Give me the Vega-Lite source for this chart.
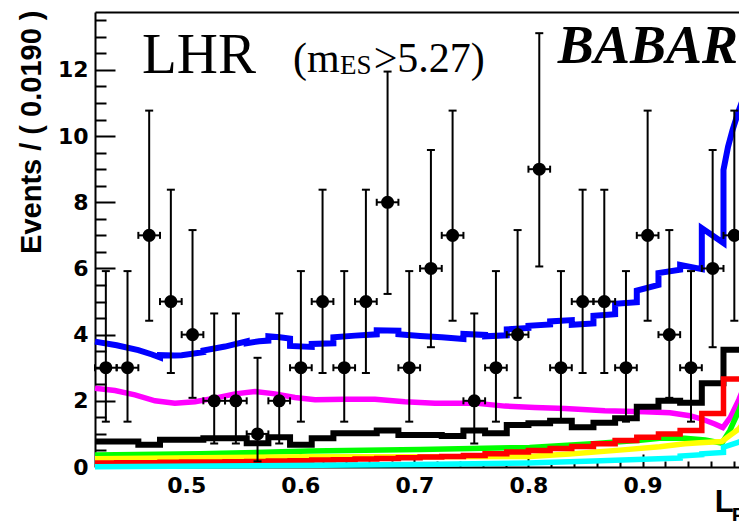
{
  "$schema": "https://vega.github.io/schema/vega-lite/v6.json",
  "autosize": "none",
  "width": 644,
  "height": 455,
  "padding": {"left": 95, "top": 12, "right": 0, "bottom": 54},
  "background": "white",
  "config": {"view": {"stroke": null}, "axis": {"grid": false, "zindex": 1}},
  "datasets": {
    "pts": [
      {"x": 0.4295, "xlo": 0.420, "xhi": 0.439, "n": 3, "lo": 1.37, "hi": 5.92},
      {"x": 0.4485, "xlo": 0.439, "xhi": 0.458, "n": 3, "lo": 1.37, "hi": 5.92},
      {"x": 0.4675, "xlo": 0.458, "xhi": 0.477, "n": 7, "lo": 4.42, "hi": 10.77},
      {"x": 0.4865, "xlo": 0.477, "xhi": 0.496, "n": 5, "lo": 2.84, "hi": 8.38},
      {"x": 0.5055, "xlo": 0.496, "xhi": 0.515, "n": 4, "lo": 2.09, "hi": 7.16},
      {"x": 0.5245, "xlo": 0.515, "xhi": 0.534, "n": 2, "lo": 0.71, "hi": 4.64},
      {"x": 0.5435, "xlo": 0.534, "xhi": 0.553, "n": 2, "lo": 0.71, "hi": 4.64},
      {"x": 0.5625, "xlo": 0.553, "xhi": 0.572, "n": 1, "lo": 0.17, "hi": 3.30},
      {"x": 0.5815, "xlo": 0.572, "xhi": 0.591, "n": 2, "lo": 0.71, "hi": 4.64},
      {"x": 0.6005, "xlo": 0.591, "xhi": 0.610, "n": 3, "lo": 1.37, "hi": 5.92},
      {"x": 0.6195, "xlo": 0.610, "xhi": 0.629, "n": 5, "lo": 2.84, "hi": 8.38},
      {"x": 0.6385, "xlo": 0.629, "xhi": 0.648, "n": 3, "lo": 1.37, "hi": 5.92},
      {"x": 0.6575, "xlo": 0.648, "xhi": 0.667, "n": 5, "lo": 2.84, "hi": 8.38},
      {"x": 0.6765, "xlo": 0.667, "xhi": 0.686, "n": 8, "lo": 5.23, "hi": 11.95},
      {"x": 0.6955, "xlo": 0.686, "xhi": 0.705, "n": 3, "lo": 1.37, "hi": 5.92},
      {"x": 0.7145, "xlo": 0.705, "xhi": 0.724, "n": 6, "lo": 3.62, "hi": 9.58},
      {"x": 0.7335, "xlo": 0.724, "xhi": 0.743, "n": 7, "lo": 4.42, "hi": 10.77},
      {"x": 0.7525, "xlo": 0.743, "xhi": 0.762, "n": 2, "lo": 0.71, "hi": 4.64},
      {"x": 0.7715, "xlo": 0.762, "xhi": 0.781, "n": 3, "lo": 1.37, "hi": 5.92},
      {"x": 0.7905, "xlo": 0.781, "xhi": 0.800, "n": 4, "lo": 2.09, "hi": 7.16},
      {"x": 0.8095, "xlo": 0.800, "xhi": 0.819, "n": 9, "lo": 6.06, "hi": 13.11},
      {"x": 0.8285, "xlo": 0.819, "xhi": 0.838, "n": 3, "lo": 1.37, "hi": 5.92},
      {"x": 0.8475, "xlo": 0.838, "xhi": 0.857, "n": 5, "lo": 2.84, "hi": 8.38},
      {"x": 0.8665, "xlo": 0.857, "xhi": 0.876, "n": 5, "lo": 2.84, "hi": 8.38},
      {"x": 0.8855, "xlo": 0.876, "xhi": 0.895, "n": 3, "lo": 1.37, "hi": 5.92},
      {"x": 0.9045, "xlo": 0.895, "xhi": 0.914, "n": 7, "lo": 4.42, "hi": 10.77},
      {"x": 0.9235, "xlo": 0.914, "xhi": 0.933, "n": 4, "lo": 2.09, "hi": 7.16},
      {"x": 0.9425, "xlo": 0.933, "xhi": 0.952, "n": 3, "lo": 1.37, "hi": 5.92},
      {"x": 0.9615, "xlo": 0.952, "xhi": 0.971, "n": 6, "lo": 3.62, "hi": 9.58},
      {"x": 0.9805, "xlo": 0.971, "xhi": 0.990, "n": 7, "lo": 4.42, "hi": 10.77}
    ],
    "hists": [
      {"s": "black", "x": 0.420, "y": 0.77}, {"s": "black", "x": 0.439, "y": 0.77}, {"s": "black", "x": 0.458, "y": 0.67},
      {"s": "black", "x": 0.477, "y": 0.82}, {"s": "black", "x": 0.496, "y": 0.82}, {"s": "black", "x": 0.515, "y": 0.87},
      {"s": "black", "x": 0.534, "y": 0.87}, {"s": "black", "x": 0.553, "y": 0.72}, {"s": "black", "x": 0.572, "y": 0.90},
      {"s": "black", "x": 0.591, "y": 0.67}, {"s": "black", "x": 0.610, "y": 0.87}, {"s": "black", "x": 0.629, "y": 1.02},
      {"s": "black", "x": 0.648, "y": 1.02}, {"s": "black", "x": 0.667, "y": 1.10}, {"s": "black", "x": 0.686, "y": 0.97},
      {"s": "black", "x": 0.705, "y": 0.97}, {"s": "black", "x": 0.724, "y": 0.94}, {"s": "black", "x": 0.743, "y": 1.10},
      {"s": "black", "x": 0.762, "y": 1.02}, {"s": "black", "x": 0.781, "y": 1.27}, {"s": "black", "x": 0.800, "y": 1.32},
      {"s": "black", "x": 0.819, "y": 1.40}, {"s": "black", "x": 0.838, "y": 1.20}, {"s": "black", "x": 0.857, "y": 1.34},
      {"s": "black", "x": 0.876, "y": 1.47}, {"s": "black", "x": 0.895, "y": 1.82}, {"s": "black", "x": 0.914, "y": 2.00},
      {"s": "black", "x": 0.933, "y": 1.94}, {"s": "black", "x": 0.952, "y": 2.53}, {"s": "black", "x": 0.971, "y": 3.54},
      {"s": "black", "x": 0.990, "y": 3.54},
      {"s": "red", "x": 0.420, "y": 0.12}, {"s": "red", "x": 0.439, "y": 0.13}, {"s": "red", "x": 0.458, "y": 0.13},
      {"s": "red", "x": 0.477, "y": 0.14}, {"s": "red", "x": 0.496, "y": 0.15}, {"s": "red", "x": 0.515, "y": 0.15},
      {"s": "red", "x": 0.534, "y": 0.16}, {"s": "red", "x": 0.553, "y": 0.17}, {"s": "red", "x": 0.572, "y": 0.18},
      {"s": "red", "x": 0.591, "y": 0.19}, {"s": "red", "x": 0.610, "y": 0.21}, {"s": "red", "x": 0.629, "y": 0.22},
      {"s": "red", "x": 0.648, "y": 0.24}, {"s": "red", "x": 0.667, "y": 0.26}, {"s": "red", "x": 0.686, "y": 0.28},
      {"s": "red", "x": 0.705, "y": 0.30}, {"s": "red", "x": 0.724, "y": 0.32}, {"s": "red", "x": 0.743, "y": 0.35},
      {"s": "red", "x": 0.762, "y": 0.40}, {"s": "red", "x": 0.781, "y": 0.45}, {"s": "red", "x": 0.800, "y": 0.50},
      {"s": "red", "x": 0.819, "y": 0.56}, {"s": "red", "x": 0.838, "y": 0.62}, {"s": "red", "x": 0.857, "y": 0.70},
      {"s": "red", "x": 0.876, "y": 0.80}, {"s": "red", "x": 0.895, "y": 0.90}, {"s": "red", "x": 0.914, "y": 1.00},
      {"s": "red", "x": 0.933, "y": 1.10}, {"s": "red", "x": 0.952, "y": 1.62}, {"s": "red", "x": 0.971, "y": 2.66},
      {"s": "red", "x": 0.990, "y": 2.66}
    ],
    "curves": [
      {"s": "blue", "i": 1, "x": 0.420, "y": 3.79}, {"s": "blue", "i": 2, "x": 0.439, "y": 3.68},
      {"s": "blue", "i": 3, "x": 0.458, "y": 3.53}, {"s": "blue", "i": 4, "x": 0.470, "y": 3.40},
      {"s": "blue", "i": 5, "x": 0.477, "y": 3.31}, {"s": "blue", "i": 6, "x": 0.477, "y": 3.38},
      {"s": "blue", "i": 7, "x": 0.490, "y": 3.37}, {"s": "blue", "i": 8, "x": 0.496, "y": 3.38},
      {"s": "blue", "i": 9, "x": 0.515, "y": 3.47}, {"s": "blue", "i": 10, "x": 0.515, "y": 3.52},
      {"s": "blue", "i": 11, "x": 0.534, "y": 3.64}, {"s": "blue", "i": 12, "x": 0.553, "y": 3.80},
      {"s": "blue", "i": 13, "x": 0.553, "y": 3.74}, {"s": "blue", "i": 14, "x": 0.564, "y": 3.80},
      {"s": "blue", "i": 15, "x": 0.572, "y": 3.82}, {"s": "blue", "i": 16, "x": 0.572, "y": 3.95},
      {"s": "blue", "i": 17, "x": 0.582, "y": 3.92}, {"s": "blue", "i": 18, "x": 0.591, "y": 3.88},
      {"s": "blue", "i": 19, "x": 0.591, "y": 3.66}, {"s": "blue", "i": 20, "x": 0.610, "y": 3.63},
      {"s": "blue", "i": 21, "x": 0.610, "y": 3.72}, {"s": "blue", "i": 22, "x": 0.629, "y": 3.74},
      {"s": "blue", "i": 23, "x": 0.629, "y": 3.92}, {"s": "blue", "i": 24, "x": 0.648, "y": 3.97},
      {"s": "blue", "i": 25, "x": 0.667, "y": 4.01}, {"s": "blue", "i": 26, "x": 0.667, "y": 4.13},
      {"s": "blue", "i": 27, "x": 0.686, "y": 4.12}, {"s": "blue", "i": 28, "x": 0.686, "y": 4.01},
      {"s": "blue", "i": 29, "x": 0.705, "y": 3.96}, {"s": "blue", "i": 30, "x": 0.724, "y": 3.92},
      {"s": "blue", "i": 31, "x": 0.743, "y": 3.87}, {"s": "blue", "i": 32, "x": 0.743, "y": 4.02},
      {"s": "blue", "i": 33, "x": 0.762, "y": 3.99}, {"s": "blue", "i": 34, "x": 0.762, "y": 3.95},
      {"s": "blue", "i": 35, "x": 0.781, "y": 3.98}, {"s": "blue", "i": 36, "x": 0.781, "y": 4.16},
      {"s": "blue", "i": 37, "x": 0.800, "y": 4.20}, {"s": "blue", "i": 38, "x": 0.800, "y": 4.27},
      {"s": "blue", "i": 39, "x": 0.819, "y": 4.31}, {"s": "blue", "i": 40, "x": 0.819, "y": 4.40},
      {"s": "blue", "i": 41, "x": 0.838, "y": 4.44}, {"s": "blue", "i": 42, "x": 0.838, "y": 4.30},
      {"s": "blue", "i": 43, "x": 0.857, "y": 4.34}, {"s": "blue", "i": 44, "x": 0.857, "y": 4.57},
      {"s": "blue", "i": 45, "x": 0.876, "y": 4.62}, {"s": "blue", "i": 46, "x": 0.876, "y": 4.93},
      {"s": "blue", "i": 47, "x": 0.895, "y": 4.98}, {"s": "blue", "i": 48, "x": 0.895, "y": 5.33},
      {"s": "blue", "i": 49, "x": 0.914, "y": 5.50}, {"s": "blue", "i": 50, "x": 0.914, "y": 5.86},
      {"s": "blue", "i": 51, "x": 0.933, "y": 5.96}, {"s": "blue", "i": 52, "x": 0.933, "y": 6.11},
      {"s": "blue", "i": 53, "x": 0.952, "y": 5.98}, {"s": "blue", "i": 54, "x": 0.952, "y": 7.22},
      {"s": "blue", "i": 55, "x": 0.971, "y": 6.77}, {"s": "blue", "i": 56, "x": 0.971, "y": 8.98},
      {"s": "blue", "i": 57, "x": 0.975, "y": 9.68}, {"s": "blue", "i": 58, "x": 0.979, "y": 10.19},
      {"s": "blue", "i": 59, "x": 0.9846, "y": 10.79}, {"s": "blue", "i": 60, "x": 0.990, "y": 11.3},

      {"s": "magenta", "i": 1, "x": 0.420, "y": 2.38}, {"s": "magenta", "i": 2, "x": 0.4375, "y": 2.31},
      {"s": "magenta", "i": 3, "x": 0.455, "y": 2.18}, {"s": "magenta", "i": 4, "x": 0.4726, "y": 2.00},
      {"s": "magenta", "i": 5, "x": 0.490, "y": 1.93}, {"s": "magenta", "i": 6, "x": 0.5077, "y": 1.97},
      {"s": "magenta", "i": 7, "x": 0.5252, "y": 2.08}, {"s": "magenta", "i": 8, "x": 0.5428, "y": 2.21},
      {"s": "magenta", "i": 9, "x": 0.5603, "y": 2.28}, {"s": "magenta", "i": 10, "x": 0.5778, "y": 2.21},
      {"s": "magenta", "i": 11, "x": 0.5953, "y": 2.10}, {"s": "magenta", "i": 12, "x": 0.6129, "y": 2.03},
      {"s": "magenta", "i": 13, "x": 0.6391, "y": 2.05}, {"s": "magenta", "i": 14, "x": 0.6654, "y": 2.05},
      {"s": "magenta", "i": 15, "x": 0.6917, "y": 1.97}, {"s": "magenta", "i": 16, "x": 0.718, "y": 1.93},
      {"s": "magenta", "i": 17, "x": 0.753, "y": 1.93}, {"s": "magenta", "i": 18, "x": 0.7793, "y": 1.84},
      {"s": "magenta", "i": 19, "x": 0.8056, "y": 1.80}, {"s": "magenta", "i": 20, "x": 0.8319, "y": 1.77},
      {"s": "magenta", "i": 21, "x": 0.867, "y": 1.70}, {"s": "magenta", "i": 22, "x": 0.902, "y": 1.67},
      {"s": "magenta", "i": 23, "x": 0.924, "y": 1.64}, {"s": "magenta", "i": 24, "x": 0.9415, "y": 1.55},
      {"s": "magenta", "i": 25, "x": 0.952, "y": 1.45}, {"s": "magenta", "i": 26, "x": 0.9634, "y": 1.30},
      {"s": "magenta", "i": 27, "x": 0.9704, "y": 1.19}, {"s": "magenta", "i": 28, "x": 0.977, "y": 1.50},
      {"s": "magenta", "i": 29, "x": 0.9844, "y": 2.03}, {"s": "magenta", "i": 30, "x": 0.990, "y": 2.5},

      {"s": "green", "i": 1, "x": 0.420, "y": 0.36}, {"s": "green", "i": 2, "x": 0.512, "y": 0.40},
      {"s": "green", "i": 3, "x": 0.608, "y": 0.48}, {"s": "green", "i": 4, "x": 0.705, "y": 0.53},
      {"s": "green", "i": 5, "x": 0.801, "y": 0.59}, {"s": "green", "i": 6, "x": 0.856, "y": 0.70},
      {"s": "green", "i": 7, "x": 0.898, "y": 0.81}, {"s": "green", "i": 8, "x": 0.915, "y": 0.87},
      {"s": "green", "i": 9, "x": 0.937, "y": 0.87}, {"s": "green", "i": 10, "x": 0.955, "y": 0.82},
      {"s": "green", "i": 11, "x": 0.9695, "y": 0.72}, {"s": "green", "i": 12, "x": 0.9765, "y": 1.1},
      {"s": "green", "i": 13, "x": 0.9844, "y": 1.7}, {"s": "green", "i": 14, "x": 0.990, "y": 2.2},

      {"s": "yellow", "i": 1, "x": 0.420, "y": 0.25}, {"s": "yellow", "i": 2, "x": 0.512, "y": 0.28},
      {"s": "yellow", "i": 3, "x": 0.608, "y": 0.31}, {"s": "yellow", "i": 4, "x": 0.705, "y": 0.31},
      {"s": "yellow", "i": 5, "x": 0.801, "y": 0.32}, {"s": "yellow", "i": 6, "x": 0.836, "y": 0.39},
      {"s": "yellow", "i": 7, "x": 0.880, "y": 0.51}, {"s": "yellow", "i": 8, "x": 0.915, "y": 0.61},
      {"s": "yellow", "i": 9, "x": 0.937, "y": 0.70}, {"s": "yellow", "i": 10, "x": 0.950, "y": 0.73},
      {"s": "yellow", "i": 11, "x": 0.9695, "y": 0.77}, {"s": "yellow", "i": 12, "x": 0.9765, "y": 0.95},
      {"s": "yellow", "i": 13, "x": 0.9844, "y": 1.15}, {"s": "yellow", "i": 14, "x": 0.990, "y": 1.4},

      {"s": "cyan", "i": 1, "x": 0.420, "y": 0.01}, {"s": "cyan", "i": 2, "x": 0.52, "y": 0.03},
      {"s": "cyan", "i": 3, "x": 0.62, "y": 0.05}, {"s": "cyan", "i": 4, "x": 0.72, "y": 0.08},
      {"s": "cyan", "i": 5, "x": 0.80, "y": 0.12}, {"s": "cyan", "i": 6, "x": 0.857, "y": 0.18},
      {"s": "cyan", "i": 7, "x": 0.914, "y": 0.25}, {"s": "cyan", "i": 8, "x": 0.933, "y": 0.27},
      {"s": "cyan", "i": 9, "x": 0.933, "y": 0.33}, {"s": "cyan", "i": 10, "x": 0.952, "y": 0.37},
      {"s": "cyan", "i": 11, "x": 0.952, "y": 0.40}, {"s": "cyan", "i": 12, "x": 0.971, "y": 0.44},
      {"s": "cyan", "i": 13, "x": 0.971, "y": 0.60}, {"s": "cyan", "i": 14, "x": 0.9844, "y": 0.75},
      {"s": "cyan", "i": 15, "x": 0.990, "y": 0.85}
    ]
  },
  "layer": [
    {
      "data": {"name": "curves"},
      "transform": [{"filter": "datum.s == 'blue'"}],
      "mark": {"type": "line", "color": "#0000ff", "strokeWidth": 6, "strokeJoin": "miter", "clip": false},
      "encoding": {
        "x": {"field": "x", "type": "quantitative", "scale": {"domain": [0.42, 0.9846], "nice": false, "zero": false},
              "axis": {"orient": "top", "labels": false, "ticks": false, "domain": true, "domainColor": "black", "domainWidth": 2, "title": null, "grid": false}},
        "y": {"field": "y", "type": "quantitative", "scale": {"domain": [0, 13.75], "nice": false},
              "axis": {"orient": "left", "values": [0, 2, 4, 6, 8, 10, 12], "format": "d",
                       "tickSize": -20, "tickWidth": 2, "tickColor": "black", "domainColor": "black", "domainWidth": 2,
                       "labelFont": "DejaVu Sans", "labelFontWeight": "bold", "labelFontSize": 22, "labelColor": "black",
                       "labelPadding": 27, "labelOverlap": false, "labelFlush": false,
                       "title": "Events / ( 0.0190 )", "titleFont": "Liberation Sans", "titleFontWeight": "bold", "titleFontSize": 29, "titleColor": "black",
                       "titleAngle": -90, "titleAlign": "right", "titleBaseline": "middle", "titleX": -64, "titleY": -2, "grid": false}},
        "order": {"field": "i", "type": "quantitative"}
      }
    },
    {
      "data": {"name": "curves"},
      "transform": [{"filter": "datum.s == 'magenta'"}],
      "mark": {"type": "line", "color": "#ff00ff", "strokeWidth": 5.5, "clip": false},
      "encoding": {
        "x": {"field": "x", "type": "quantitative", "scale": {"domain": [0.42, 0.9846], "nice": false, "zero": false},
              "axis": {"orient": "bottom", "values": [0.44,0.46,0.48,0.52,0.54,0.56,0.58,0.62,0.64,0.66,0.68,0.72,0.74,0.76,0.78,0.82,0.84,0.86,0.88,0.92,0.94,0.96,0.98],
                       "labels": false, "domain": false, "tickSize": -6, "tickWidth": 2, "tickColor": "black", "title": null, "grid": false}},
        "y": {"field": "y", "type": "quantitative", "scale": {"domain": [0, 13.75], "nice": false},
              "axis": {"orient": "left", "values": [0.5,1,1.5,2.5,3,3.5,4.5,5,5.5,6.5,7,7.5,8.5,9,9.5,10.5,11,11.5,12.5,13,13.5],
                       "labels": false, "domain": false, "tickSize": -11, "tickWidth": 2, "tickColor": "black", "title": null, "grid": false}},
        "order": {"field": "i", "type": "quantitative"}
      }
    },
    {
      "data": {"name": "hists"},
      "transform": [{"filter": "datum.s == 'black'"}],
      "mark": {"type": "line", "color": "#000000", "strokeWidth": 6, "interpolate": "step-after", "strokeJoin": "miter", "clip": false},
      "encoding": {
        "x": {"field": "x", "type": "quantitative", "scale": {"domain": [0.42, 0.9846], "nice": false, "zero": false}, "axis": null},
        "y": {"field": "y", "type": "quantitative", "scale": {"domain": [0, 13.75], "nice": false}, "axis": null}
      }
    },
    {
      "data": {"name": "curves"},
      "transform": [{"filter": "datum.s == 'green'"}],
      "mark": {"type": "line", "color": "#00ff00", "strokeWidth": 5.5, "clip": false},
      "encoding": {
        "x": {"field": "x", "type": "quantitative", "scale": {"domain": [0.42, 0.9846], "nice": false, "zero": false}, "axis": null},
        "y": {"field": "y", "type": "quantitative", "scale": {"domain": [0, 13.75], "nice": false}, "axis": null},
        "order": {"field": "i", "type": "quantitative"}
      }
    },
    {
      "data": {"name": "curves"},
      "transform": [{"filter": "datum.s == 'yellow'"}],
      "mark": {"type": "line", "color": "#ffff00", "strokeWidth": 5.5, "clip": false},
      "encoding": {
        "x": {"field": "x", "type": "quantitative", "scale": {"domain": [0.42, 0.9846], "nice": false, "zero": false}, "axis": null},
        "y": {"field": "y", "type": "quantitative", "scale": {"domain": [0, 13.75], "nice": false}, "axis": null},
        "order": {"field": "i", "type": "quantitative"}
      }
    },
    {
      "data": {"name": "hists"},
      "transform": [{"filter": "datum.s == 'red'"}],
      "mark": {"type": "line", "color": "#ff0000", "strokeWidth": 5.5, "interpolate": "step-after", "strokeJoin": "miter", "clip": false},
      "encoding": {
        "x": {"field": "x", "type": "quantitative", "scale": {"domain": [0.42, 0.9846], "nice": false, "zero": false}, "axis": null},
        "y": {"field": "y", "type": "quantitative", "scale": {"domain": [0, 13.75], "nice": false}, "axis": null}
      }
    },
    {
      "data": {"name": "curves"},
      "transform": [{"filter": "datum.s == 'cyan'"}],
      "mark": {"type": "line", "color": "#00ffff", "strokeWidth": 5.5, "strokeJoin": "miter", "clip": false},
      "encoding": {
        "x": {"field": "x", "type": "quantitative", "scale": {"domain": [0.42, 0.9846], "nice": false, "zero": false}, "axis": null},
        "y": {"field": "y", "type": "quantitative", "scale": {"domain": [0, 13.75], "nice": false}, "axis": null},
        "order": {"field": "i", "type": "quantitative"}
      }
    },
    {
      "data": {"name": "pts"},
      "mark": {"type": "rule", "color": "black", "strokeWidth": 2},
      "encoding": {
        "x": {"field": "x", "type": "quantitative", "scale": {"domain": [0.42, 0.9846], "nice": false, "zero": false}, "axis": null},
        "y": {"field": "lo", "type": "quantitative", "scale": {"domain": [0, 13.75], "nice": false}, "axis": null},
        "y2": {"field": "hi"}
      }
    },
    {
      "data": {"name": "pts"},
      "mark": {"type": "rule", "color": "black", "strokeWidth": 2},
      "encoding": {
        "x": {"field": "xlo", "type": "quantitative", "scale": {"domain": [0.42, 0.9846], "nice": false, "zero": false}, "axis": null},
        "x2": {"field": "xhi"},
        "y": {"field": "n", "type": "quantitative", "scale": {"domain": [0, 13.75], "nice": false}, "axis": null}
      }
    },
    {
      "data": {"name": "pts"},
      "mark": {"type": "tick", "orient": "horizontal", "color": "black", "size": 8, "thickness": 2, "opacity": 1},
      "encoding": {
        "x": {"field": "x", "type": "quantitative", "scale": {"domain": [0.42, 0.9846], "nice": false, "zero": false}, "axis": null},
        "y": {"field": "hi", "type": "quantitative", "scale": {"domain": [0, 13.75], "nice": false}, "axis": null}
      }
    },
    {
      "data": {"name": "pts"},
      "mark": {"type": "tick", "orient": "horizontal", "color": "black", "size": 8, "thickness": 2, "opacity": 1},
      "encoding": {
        "x": {"field": "x", "type": "quantitative", "scale": {"domain": [0.42, 0.9846], "nice": false, "zero": false}, "axis": null},
        "y": {"field": "lo", "type": "quantitative", "scale": {"domain": [0, 13.75], "nice": false}, "axis": null}
      }
    },
    {
      "data": {"name": "pts"},
      "mark": {"type": "tick", "orient": "vertical", "color": "black", "size": 7, "thickness": 2, "opacity": 1},
      "encoding": {
        "x": {"field": "xlo", "type": "quantitative", "scale": {"domain": [0.42, 0.9846], "nice": false, "zero": false}, "axis": null},
        "y": {"field": "n", "type": "quantitative", "scale": {"domain": [0, 13.75], "nice": false}, "axis": null}
      }
    },
    {
      "data": {"name": "pts"},
      "mark": {"type": "tick", "orient": "vertical", "color": "black", "size": 7, "thickness": 2, "opacity": 1},
      "encoding": {
        "x": {"field": "xhi", "type": "quantitative", "scale": {"domain": [0.42, 0.9846], "nice": false, "zero": false}, "axis": null},
        "y": {"field": "n", "type": "quantitative", "scale": {"domain": [0, 13.75], "nice": false}, "axis": null}
      }
    },
    {
      "data": {"name": "pts"},
      "mark": {"type": "point", "shape": "circle", "filled": true, "color": "black", "size": 170, "opacity": 1},
      "encoding": {
        "x": {"field": "x", "type": "quantitative", "scale": {"domain": [0.42, 0.9846], "nice": false, "zero": false},
              "axis": {"orient": "bottom", "values": [0.5, 0.6, 0.7, 0.8, 0.9], "format": ".1f",
                       "tickSize": -13, "tickWidth": 2, "tickColor": "black", "domainColor": "black", "domainWidth": 2,
                       "labelFont": "DejaVu Sans", "labelFontWeight": "bold", "labelFontSize": 22, "labelColor": "black",
                       "labelPadding": 21, "labelBaseline": "top", "labelOverlap": false, "labelFlush": false, "title": null, "grid": false}},
        "y": {"field": "n", "type": "quantitative", "scale": {"domain": [0, 13.75], "nice": false}, "axis": null}
      }
    },
    {
      "data": {"values": [{"x": 0.4612, "y": 11.91, "t": "LHR"}]},
      "mark": {"type": "text", "font": "Liberation Serif", "fontSize": 57, "align": "left", "baseline": "alphabetic", "color": "black"},
      "encoding": {
        "x": {"field": "x", "type": "quantitative", "scale": {"domain": [0.42, 0.9846], "nice": false, "zero": false}, "axis": null},
        "y": {"field": "y", "type": "quantitative", "scale": {"domain": [0, 13.75], "nice": false}, "axis": null},
        "text": {"field": "t"}
      }
    },
    {
      "data": {"values": [{"x": 0.5935, "y": 11.94, "t": "(m"}]},
      "mark": {"type": "text", "font": "Liberation Serif", "fontSize": 42, "align": "left", "baseline": "alphabetic", "color": "black"},
      "encoding": {
        "x": {"field": "x", "type": "quantitative", "scale": {"domain": [0.42, 0.9846], "nice": false, "zero": false}, "axis": null},
        "y": {"field": "y", "type": "quantitative", "scale": {"domain": [0, 13.75], "nice": false}, "axis": null},
        "text": {"field": "t"}
      }
    },
    {
      "data": {"values": [{"x": 0.6347, "y": 11.88, "t": "ES"}]},
      "mark": {"type": "text", "font": "Liberation Serif", "fontSize": 27, "align": "left", "baseline": "alphabetic", "color": "black"},
      "encoding": {
        "x": {"field": "x", "type": "quantitative", "scale": {"domain": [0.42, 0.9846], "nice": false, "zero": false}, "axis": null},
        "y": {"field": "y", "type": "quantitative", "scale": {"domain": [0, 13.75], "nice": false}, "axis": null},
        "text": {"field": "t"}
      }
    },
    {
      "data": {"values": [{"x": 0.7618, "y": 11.94, "t": ">5.27)"}]},
      "mark": {"type": "text", "font": "Liberation Serif", "fontSize": 42, "align": "right", "baseline": "alphabetic", "color": "black"},
      "encoding": {
        "x": {"field": "x", "type": "quantitative", "scale": {"domain": [0.42, 0.9846], "nice": false, "zero": false}, "axis": null},
        "y": {"field": "y", "type": "quantitative", "scale": {"domain": [0, 13.75], "nice": false}, "axis": null},
        "text": {"field": "t"}
      }
    },
    {
      "data": {"values": [{"x": 0.8258, "y": 12.21, "t": "BABAR"}]},
      "mark": {"type": "text", "font": "Liberation Serif", "fontSize": 54, "fontWeight": "bold", "fontStyle": "italic", "align": "left", "baseline": "alphabetic", "color": "black"},
      "encoding": {
        "x": {"field": "x", "type": "quantitative", "scale": {"domain": [0.42, 0.9846], "nice": false, "zero": false}, "axis": null},
        "y": {"field": "y", "type": "quantitative", "scale": {"domain": [0, 13.75], "nice": false}, "axis": null},
        "text": {"field": "t"}
      }
    },
    {
      "data": {"values": [{"x": 0.9634, "y": -1.36, "t": "L"}]},
      "mark": {"type": "text", "font": "Liberation Sans", "fontSize": 31, "fontWeight": "bold", "align": "left", "baseline": "alphabetic", "color": "black"},
      "encoding": {
        "x": {"field": "x", "type": "quantitative", "scale": {"domain": [0.42, 0.9846], "nice": false, "zero": false}, "axis": null},
        "y": {"field": "y", "type": "quantitative", "scale": {"domain": [0, 13.75], "nice": false}, "axis": null},
        "text": {"field": "t"}
      }
    },
    {
      "data": {"values": [{"x": 0.9783, "y": -1.66, "t": "F"}]},
      "mark": {"type": "text", "font": "Liberation Sans", "fontSize": 21, "fontWeight": "bold", "align": "left", "baseline": "alphabetic", "color": "black"},
      "encoding": {
        "x": {"field": "x", "type": "quantitative", "scale": {"domain": [0.42, 0.9846], "nice": false, "zero": false}, "axis": null},
        "y": {"field": "y", "type": "quantitative", "scale": {"domain": [0, 13.75], "nice": false}, "axis": null},
        "text": {"field": "t"}
      }
    }
  ],
  "resolve": {"axis": {"x": "independent", "y": "independent"}}
}
